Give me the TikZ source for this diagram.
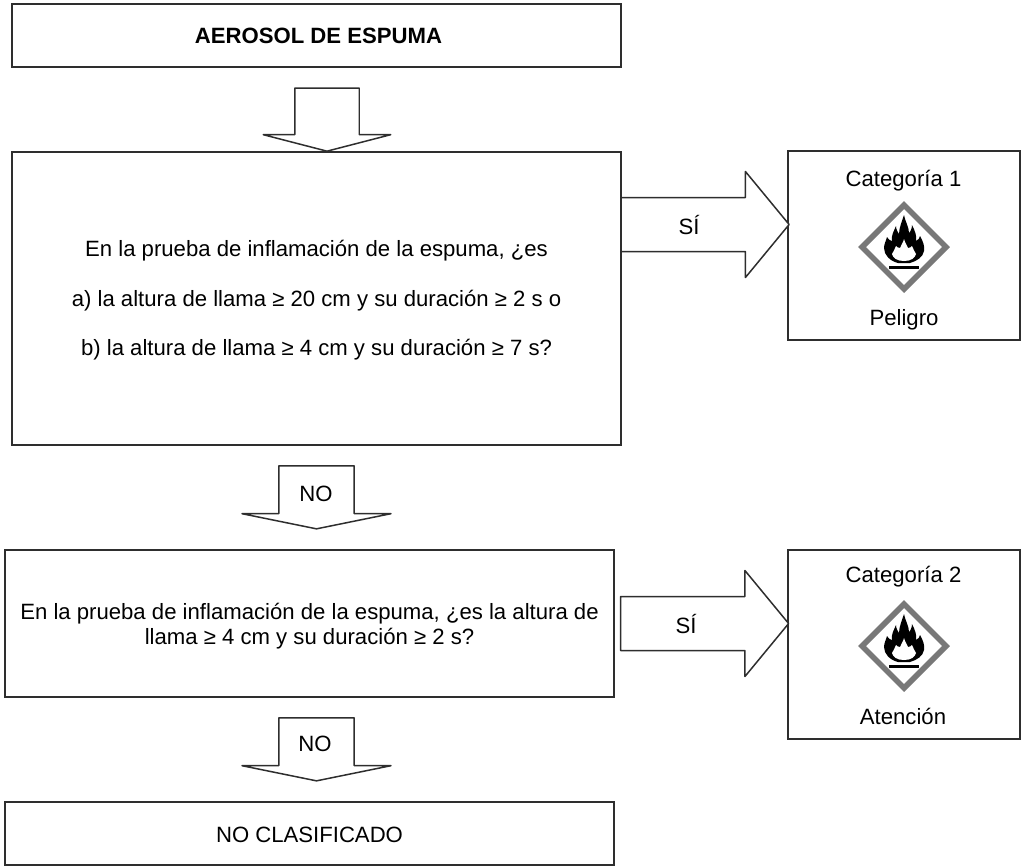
\documentclass[tikz,border=0pt]{standalone}
\usepackage{fontspec}
\setmainfont{Liberation Sans}
\usetikzlibrary{shapes.arrows}

\definecolor{linegray}{gray}{0.18}
\definecolor{signgray}{gray}{0.47}

\tikzset{
  box/.style={draw=linegray, line width=0.85pt, fill=white, inner sep=0pt},
  blockarrow/.style={draw=linegray, line width=0.85pt, line join=round, fill=white, single arrow},
  downarrow/.style={blockarrow, shape border rotate=270, inner ysep=0pt},
  rightarrow/.style={blockarrow, inner xsep=0pt, inner ysep=0.525cm, minimum height=3.36cm,
    single arrow head extend=0.52cm, single arrow tip angle=101},
  nofirst/.style={downarrow, inner xsep=0.74cm, minimum height=1.26cm,
    single arrow head extend=0.735cm, single arrow tip angle=157},
  txt/.style={inner sep=0pt, font=\fontsize{12.6}{14.2}\selectfont},
  hazard/.pic={
    \draw[signgray, line width=3.2pt, fill=white, miter limit=4]
      (0,-42) -- (42,0) -- (0,42) -- (-42,0) -- cycle;
    % outer flame
    \fill[black] (-6,16) .. controls (-14,14) and (-20,8) .. (-20,1)
      .. controls (-20,-3) and (-18,-6) .. (-17,-10)
      .. controls (-15,-7) and (-13,-6) .. (-12,-6)
      .. controls (-13,-12) and (-10,-16) .. (-8,-21)
      .. controls (-8,-17) and (-6,-15) .. (-5,-13)
      .. controls (-5,-19) and (-2,-26) .. (0,-32)
      .. controls (1,-26) and (5,-20) .. (5,-14)
      .. controls (6,-15) and (8,-18) .. (8,-22)
      .. controls (11,-16) and (13,-11) .. (12,-6)
      .. controls (14,-7) and (16,-9) .. (16,-11)
      .. controls (19,-6) and (21,0) .. (20,4)
      .. controls (19,10) and (13,14) .. (6,16) -- cycle;
    % inner flame
    \fill[white] (0,-8) .. controls (1,-4) and (3,-2) .. (4,1)
      .. controls (6,1) and (7,0) .. (8,-1)
      .. controls (9,2) and (11,5) .. (12,7)
      .. controls (11,11) and (7,14) .. (0,14)
      .. controls (-7,14) and (-11,11) .. (-12,7)
      .. controls (-11,5) and (-9,2) .. (-8,-1)
      .. controls (-7,0) and (-6,1) .. (-4,1)
      .. controls (-3,-2) and (-1,-4) .. (0,-8) -- cycle;
    \fill[black] (-15,18.5) rectangle (15,21.5);
  }
}

\begin{document}
\begin{tikzpicture}[x=0.02cm, y=-0.02cm]
  \useasboundingbox (0,0) rectangle (1023,867);

  % left column
  \node[box, minimum width=12.18cm, minimum height=1.26cm] (top) at (316.5,35.5) {};
  \node[box, minimum width=12.18cm, minimum height=5.86cm] (first) at (316.5,298.5) {};
  \node[box, minimum width=12.18cm, minimum height=2.94cm] (second) at (309.5,623.5) {};
  \node[box, minimum width=12.18cm, minimum height=1.26cm] (none) at (309.5,833.5) {};

  % right column
  \node[box, minimum width=4.64cm, minimum height=3.78cm] (cata) at (904,245.5) {};
  \node[box, minimum width=4.64cm, minimum height=3.78cm] (catb) at (904,644.5) {};

  % block arrows
  \node[downarrow, inner xsep=0.63cm, minimum height=1.26cm, single arrow head extend=0.63cm, single arrow tip angle=151] (arrowa) at (327,115.5) {};
  \node[nofirst] (arrowb) at (316.5,493.5) {};
  \node[nofirst] (arrowc) at (316.5,745.5) {};
  \node[rightarrow] (arrowd) at (694,224.5) {};
  \node[rightarrow] (arrowe) at (693.5,623.5) {};

  % texts
  \node[txt, font=\fontsize{12.6}{14.2}\selectfont\bfseries] (toptxt) at (318.5,35.5) {AEROSOL DE ESPUMA};
  \node[txt, align=center, font=\fontsize{12.6}{28.2}\selectfont] (firsttxt) at (316.5,300.5)
    {En la prueba de inflamación de la espuma, ¿es\\
     a) la altura de llama ≥ 20 cm y su duración ≥ 2 s o\\
     b) la altura de llama ≥ 4 cm y su duración ≥ 7 s?};
  \node[txt, align=center] (secondtxt) at (309.5,626)
    {En la prueba de inflamación de la espuma, ¿es la altura de\\
     llama ≥ 4 cm y su duración ≥ 2 s?};
  \node[txt] (nonetxt) at (309.5,835) {NO CLASIFICADO};
  \node[txt] (yesa) at (689,225) {SÍ};
  \node[txt] (yesb) at (686,624) {SÍ};
  \node[txt] (noa) at (316,494) {NO};
  \node[txt] (nob) at (315,744) {NO};

  \node[txt] (cataname) at (903.5,181) {Categoría 1};
  \node[txt] (catatxt) at (904,320) {Peligro};
  \node[txt] (catbname) at (903.5,577) {Categoría 2};
  \node[txt] (catbtxt) at (903,716) {Atención};

  % pictograms
  \pic at (904,247) {hazard};
  \pic at (904,646) {hazard};
\end{tikzpicture}
\end{document}
